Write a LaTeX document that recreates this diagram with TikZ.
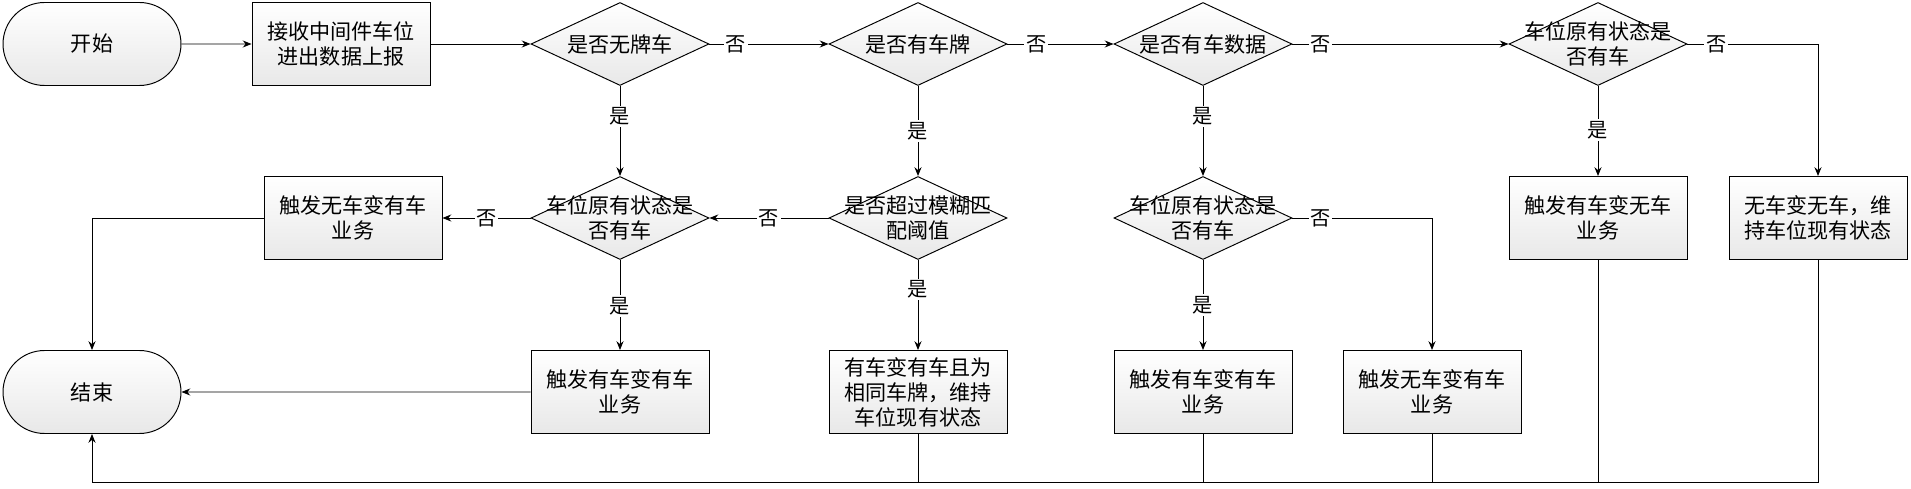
\documentclass[tikz,border=0pt]{standalone}
\usepackage{fontspec}
\setmainfont{Noto Sans CJK SC}
\usetikzlibrary{shapes.geometric,shapes.misc,arrows.meta}

\tikzset{
	base/.style={draw, line width=0.55pt, top color=white, bottom color=black!9,
		minimum width=3.56cm, minimum height=1.66cm, inner sep=0pt, align=center,
		font=\fontsize{12}{14.2}\selectfont},
	term/.style={base, rounded rectangle},
	proc/.style={base, rectangle},
	decide/.style={base, diamond},
	dtext/.style={align=center, inner sep=0pt, font=\fontsize{12}{14.2}\selectfont},
	yn/.style={fill=white, inner sep=1pt, font=\fontsize{11.5}{13}\selectfont},
	flow/.style={line width=0.55pt},
}

\begin{document}
\begin{tikzpicture}[x=0.02cm, y=-0.02cm, >={Stealth[length=5pt,width=4pt]}]
	\useasboundingbox (0,0) rectangle (1911,489);

	% Top row
	\node[term] (start) at (92,44) {开始};
	\node[proc] (recv) at (341,44) {接收中间件车位\\进出数据上报};
	\node[decide, label={[dtext]center:是否无牌车}] (nolic) at (620,44) {};
	\node[decide, label={[dtext]center:是否有车牌}] (haslic) at (918,44) {};
	\node[decide, label={[dtext]center:是否有车数据}] (hasdata) at (1203,44) {};
	\node[decide, label={[dtext]center:车位原有状态是\\否有车}] (stateD) at (1598,44) {};

	% Middle row
	\node[proc] (trigA) at (353,218) {触发无车变有车\\业务};
	\node[decide, label={[dtext]center:车位原有状态是\\否有车}] (stateA) at (620,218) {};
	\node[decide, label={[dtext]center:是否超过模糊匹\\配阈值}] (fuzzy) at (918,218) {};
	\node[decide, label={[dtext]center:车位原有状态是\\否有车}] (stateC) at (1203,218) {};
	\node[proc] (trigD) at (1598,218) {触发有车变无车\\业务};
	\node[proc] (keepD) at (1818,218) {无车变无车，维\\持车位现有状态};

	% Bottom row
	\node[term] (stop) at (92,392) {结束};
	\node[proc] (trigB) at (620,392) {触发有车变有车\\业务};
	\node[proc] (keepB) at (918,392) {有车变有车且为\\相同车牌，维持\\车位现有状态};
	\node[proc] (trigC) at (1203,392) {触发有车变有车\\业务};
	\node[proc] (trigE) at (1432,392) {触发无车变有车\\业务};
	\coordinate (bus) at (92,482);

	% Main line
	\draw[flow,->] (start) -- (recv);
	\draw[flow,->] (recv) -- (nolic);
	\draw[flow,->] (nolic) -- node[yn,pos=0.22] {否} (haslic);
	\draw[flow,->] (haslic) -- node[yn,pos=0.27] {否} (hasdata);
	\draw[flow,->] (hasdata) -- node[yn,pos=0.13] {否} (stateD);
	\draw[flow,->] (stateD.east) -| node[yn,pos=0.11] {否} (keepD.north);
	\draw[flow,->] (stateD) -- node[yn,pos=0.49] {是} (trigD);

	% Branches down
	\draw[flow,->] (nolic) -- node[yn,pos=0.34] {是} (stateA);
	\draw[flow,->] (haslic) -- node[yn,pos=0.5] {是} (fuzzy);
	\draw[flow,->] (hasdata) -- node[yn,pos=0.34] {是} (stateC);
	\draw[flow,->] (fuzzy) -- node[yn,pos=0.5] {否} (stateA);
	\draw[flow,->] (stateA) -- node[yn,pos=0.5] {否} (trigA);
	\draw[flow,->] (stateA) -- node[yn,pos=0.51] {是} (trigB);
	\draw[flow,->] (fuzzy) -- node[yn,pos=0.33] {是} (keepB);
	\draw[flow,->] (stateC) -- node[yn,pos=0.5] {是} (trigC);
	\draw[flow,->] (stateC.east) -| node[yn,pos=0.1] {否} (trigE.north);

	% Into the end
	\draw[flow,->] (trigA.west) -| (stop.north);
	\draw[flow,->] (trigB) -- (stop);
	\draw[flow,->] (keepD.south) |- (bus) -- (stop.south);
	\draw[flow] (trigD.south) -- (trigD.south |- bus);
	\draw[flow] (trigE.south) -- (trigE.south |- bus);
	\draw[flow] (trigC.south) -- (trigC.south |- bus);
	\draw[flow] (keepB.south) -- (keepB.south |- bus);

\end{tikzpicture}
\end{document}
